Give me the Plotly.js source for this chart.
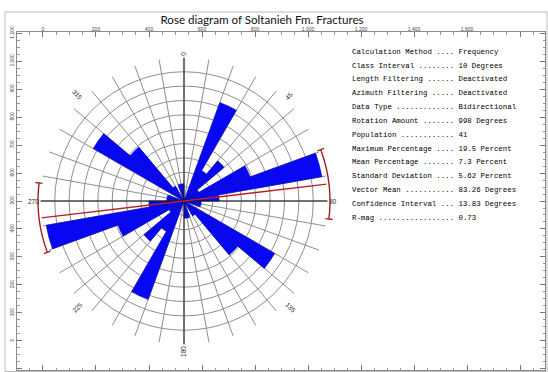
<!DOCTYPE html>
<html>
<head>
<meta charset="utf-8">
<script src="https://cdn.plot.ly/plotly-3.0.1.min.js"></script>
<style>
  html, body { margin: 0; padding: 0; background: #fff; }
  #chart { width: 548px; height: 372px; }
</style>
</head>
<body>
<div id="chart"></div>
<script>
// Fracture strike classes (10 degree bins, 0-180), bin mid-points
const classMid = [5, 15, 25, 35, 45, 55, 65, 75, 85, 95, 105, 115, 125, 135, 145, 155, 165, 175];
// Percentage of the 41 fractures falling in each class
const classPct = [0, 0, 14.6, 4.9, 7.3, 2.4, 9.8, 19.5, 4.9, 2.4, 2.4, 0, 14.6, 9.8, 2.4, 0, 2.4, 2.4];

// Summary statistics
const vectorMean = 83.26;
const confInterval = 13.83;
const statLabels = ['Calculation Method', 'Class Interval', 'Length Filtering', 'Azimuth Filtering',
  'Data Type', 'Rotation Amount', 'Population', 'Maximum Percentage', 'Mean Percentage',
  'Standard Deviation', 'Vector Mean', 'Confidence Interval', 'R-mag'];
const statValues = ['Frequency', '10 Degrees', 'Deactivated', 'Deactivated', 'Bidirectional',
  '998 Degrees', '41', '19.5 Percent', '7.3 Percent', '5.62 Percent',
  vectorMean + ' Degrees', confInterval + ' Degrees', '0.73'];

// Compass labels around the rose
const compassAz = [0, 45, 90, 135, 180, 225, 270, 315];
const compassText = ['0', '45', '90', '135', '180', '225', '270', '315'];

// Frame axes ticks
const xTickVals = [0, 200, 400, 600, 800, 1000, 1200, 1400, 1600, 1800];
const xTickText = ['0', '200', '400', '600', '800', '1,000', '1,200', '1,400', '1,600', ''];
const yTickVals = [-100, 0, 100, 200, 300, 400, 500, 600, 700, 800, 900, 1000, 1100];
const yTickText = ['-100', '0', '100', '200', '300', '400', '500', '600', '700', '800', '900', '1,000', '1,100'];

// ---- geometry (pixels) ----
const W = 548, H = 372;
const CX = 184, CY = 201;      // rose centre
const RMAX = 20;               // outer radius in percent
const RPX = 143.6;             // pixel radius of RMAX
const R2MAX = 22;              // overlay polar range (for marks beyond the rim)
const R2PX = RPX * R2MAX / RMAX;

function polarDomain(rpx) {
  return {
    x: [(CX - rpx) / W, (CX + rpx) / W],
    y: [(H - CY - rpx) / H, (H - CY + rpx) / H]
  };
}

// Bidirectional data: each class is plotted in both directions
const theta = classMid.concat(classMid.map(t => t + 180));
const rVals = classPct.concat(classPct);

const traces = [];

// empty trace so the frame axes are drawn
traces.push({ type: 'scatter', x: [], y: [], xaxis: 'x', yaxis: 'y', showlegend: false, hoverinfo: 'skip' });

traces.push({
  type: 'barpolar', subplot: 'polar',
  r: rVals, theta: theta, width: 10,
  marker: { color: '#0707f2', line: { color: '#0000b4', width: 0.5 } },
  showlegend: false, hoverinfo: 'skip'
});

// N-S and E-W reference axes
traces.push({
  type: 'scatterpolar', subplot: 'polar', mode: 'lines',
  r: [RMAX, 0, RMAX], theta: [0, 0, 180],
  line: { color: '#1a1a1a', width: 1 }, showlegend: false, hoverinfo: 'skip'
});
traces.push({
  type: 'scatterpolar', subplot: 'polar', mode: 'lines',
  r: [RMAX, 0, RMAX], theta: [90, 90, 270],
  line: { color: '#1a1a1a', width: 1 }, showlegend: false, hoverinfo: 'skip'
});

// vector mean direction
traces.push({
  type: 'scatterpolar', subplot: 'polar', mode: 'lines',
  r: [RMAX, 0, RMAX], theta: [vectorMean, vectorMean, vectorMean + 180],
  line: { color: '#b3202a', width: 1.4 }, showlegend: false, hoverinfo: 'skip'
});

// confidence interval arcs with end caps (both ends of the mean axis)
const arcR = 20.33, capIn = 19.85, capOut = 20.85;
[0, 180].forEach(off => {
  const a0 = vectorMean - confInterval + off, a1 = vectorMean + confInterval + off;
  const th = [], rr = [];
  const n = 40;
  for (let i = 0; i <= n; i++) { th.push(a0 + (a1 - a0) * i / n); rr.push(arcR); }
  traces.push({
    type: 'scatterpolar', subplot: 'polar2', mode: 'lines', r: rr, theta: th,
    line: { color: '#a51c26', width: 1.4 }, showlegend: false, hoverinfo: 'skip'
  });
  [a0, a1].forEach(a => {
    traces.push({
      type: 'scatterpolar', subplot: 'polar2', mode: 'lines', r: [capIn, capOut], theta: [a, a],
      line: { color: '#a51c26', width: 1.4 }, showlegend: false, hoverinfo: 'skip'
    });
  });
});

const annotations = [];

// statistics block
const statY0 = 51.7, statDY = 13.85;
statLabels.forEach((lab, i) => {
  const dots = '.'.repeat(Math.max(1, 22 - lab.length));
  annotations.push({
    xref: 'paper', yref: 'paper', x: 350 / W, y: (H - (statY0 + i * statDY)) / H,
    xanchor: 'left', yanchor: 'middle', showarrow: false,
    text: lab + ' ' + dots + ' ' + statValues[i],
    font: { family: 'Liberation Mono, DejaVu Sans Mono, monospace', size: 7.4, color: '#000' }
  });
});

// compass labels, oriented along their radial direction, starting just past the rim
const labFont = 6.5, labInner = 144.5;
compassAz.forEach((az, i) => {
  const rad = az * Math.PI / 180;
  let ang = az - 90;
  if (ang >= 90) ang -= 180;
  if (ang < -90) ang += 180;
  const halfLen = compassText[i].length * labFont * 0.556 / 2;
  const rl = labInner + halfLen + 1;
  annotations.push({
    xref: 'paper', yref: 'paper',
    x: (CX + rl * Math.sin(rad)) / W,
    y: (H - (CY - rl * Math.cos(rad))) / H,
    xanchor: 'center', yanchor: 'middle', showarrow: false,
    text: compassText[i], textangle: ang,
    font: { family: 'Liberation Sans, Arial, sans-serif', size: labFont, color: '#222' }
  });
});

const dom1 = polarDomain(RPX);
const dom2 = polarDomain(R2PX);

const layout = {
  width: W, height: H,
  margin: { l: 0, r: 0, t: 0, b: 0 },
  paper_bgcolor: '#fff', plot_bgcolor: 'rgba(0,0,0,0)',
  showlegend: false,
  title: {
    text: 'Rose diagram of Soltanieh Fm. Fractures',
    x: 262 / W, xanchor: 'center', y: 1 - 19.5 / H, yanchor: 'middle',
    font: { family: 'Lato, Liberation Sans, sans-serif', size: 11.6, color: '#111' }
  },
  xaxis: {
    domain: [17 / W, 545 / W], range: [-98, 1894], side: 'top',
    showline: true, linecolor: '#8a8a8a', linewidth: 1, mirror: 'ticks',
    ticks: 'inside', ticklen: 5, tickcolor: '#777', tickwidth: 1,
    tickmode: 'array', tickvals: xTickVals, ticktext: xTickText, ticklabelstandoff: -2,
    tickfont: { family: 'Liberation Sans, sans-serif', size: 5, color: '#444' },
    minor: { tickmode: 'linear', tick0: 0, dtick: 50, ticks: 'inside', ticklen: 2.5, tickcolor: '#999' },
    showgrid: false, zeroline: false, fixedrange: true
  },
  yaxis: {
    domain: [2 / H, 340 / H], range: [-104, 1104], side: 'left',
    showline: true, linecolor: '#8a8a8a', linewidth: 1, mirror: 'ticks',
    ticks: 'inside', ticklen: 5, tickcolor: '#777', tickwidth: 1,
    tickmode: 'array', tickvals: yTickVals, ticktext: yTickText, tickangle: -90,
    tickfont: { family: 'Liberation Sans, sans-serif', size: 5, color: '#444' },
    minor: { tickmode: 'linear', tick0: 0, dtick: 25, ticks: 'inside', ticklen: 2.5, tickcolor: '#999' },
    showgrid: false, zeroline: false, fixedrange: true
  },
  polar: {
    domain: dom1, bgcolor: 'rgba(0,0,0,0)',
    radialaxis: {
      range: [0, RMAX], tickmode: 'array', tickvals: [2, 4, 6, 8, 10, 12, 14, 16, 18],
      showticklabels: false, ticks: '', showline: false,
      showgrid: true, gridcolor: '#8e8e8e', gridwidth: 1
    },
    angularaxis: {
      rotation: 90, direction: 'clockwise', tickmode: 'linear', tick0: 0, dtick: 10,
      showticklabels: false, ticks: '', showline: false,
      showgrid: true, gridcolor: '#8e8e8e', gridwidth: 1
    }
  },
  polar2: {
    domain: dom2, bgcolor: 'rgba(0,0,0,0)',
    radialaxis: { range: [0, R2MAX], visible: false, showgrid: false, showline: false, showticklabels: false, ticks: '' },
    angularaxis: { rotation: 90, direction: 'clockwise', showgrid: false, showline: false, showticklabels: false, ticks: '' }
  },
  shapes: [{
    type: 'rect', xref: 'paper', yref: 'paper',
    x0: 5 / W, x1: 547 / W, y0: 0.5 / H, y1: (H - 12) / H,
    line: { color: '#bdbdbd', width: 1 }, fillcolor: 'rgba(0,0,0,0)', layer: 'below'
  }],
  annotations: annotations
};

Plotly.newPlot('chart', traces, layout, { staticPlot: true, displayModeBar: false });
</script>
</body>
</html>
